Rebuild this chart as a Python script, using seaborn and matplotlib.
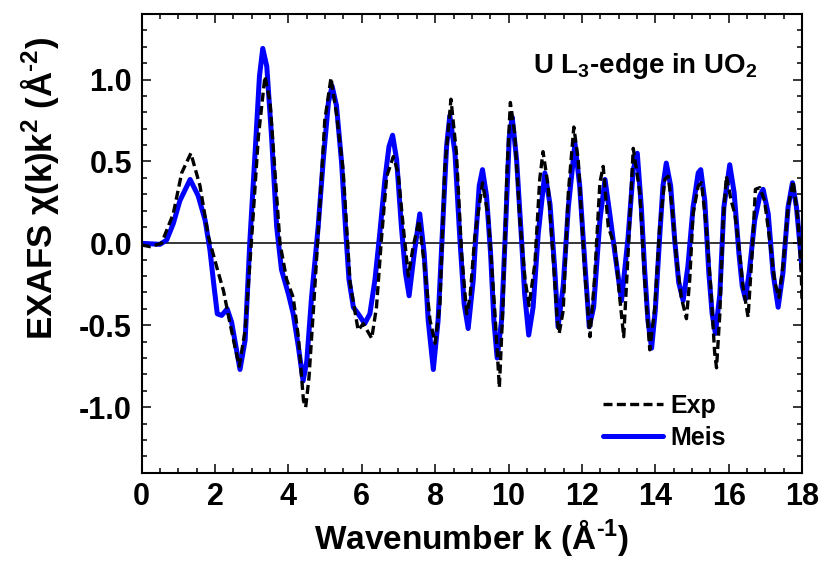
import numpy as np
import pandas as pd
import seaborn as sns
import matplotlib
matplotlib.use("Agg")
import matplotlib.pyplot as plt
from matplotlib.ticker import MultipleLocator, FormatStrFormatter

# ---- data ----
k_meis = [0.0, 0.25, 0.50, 0.68, 0.86, 1.04, 1.32, 1.54, 1.73, 1.86, 1.97, 2.06, 2.18, 2.33,
          2.45, 2.57, 2.68, 2.82, 2.95, 3.09, 3.21, 3.30, 3.41, 3.54, 3.68, 3.81, 4.00, 4.13,
          4.27, 4.40, 4.50, 4.63, 4.81, 4.95, 5.09, 5.19, 5.31, 5.45, 5.56, 5.65, 5.77, 5.90,
          6.08, 6.22, 6.36, 6.49, 6.63, 6.74, 6.84, 6.95, 7.08, 7.19, 7.29, 7.43, 7.58, 7.70,
          7.81, 7.95, 8.08, 8.19, 8.31, 8.40, 8.54, 8.67, 8.79, 8.90, 9.04, 9.08, 9.20, 9.29,
          9.40, 9.51, 9.60, 9.69, 9.81, 9.92, 10.02, 10.10, 10.22, 10.35, 10.44, 10.55, 10.67,
          10.81, 10.99, 11.13, 11.26, 11.35, 11.49, 11.63, 11.81, 11.94, 12.08, 12.20, 12.32,
          12.49, 12.63, 12.76, 12.90, 13.08, 13.26, 13.40, 13.51, 13.62, 13.71, 13.80, 13.90,
          14.00, 14.12, 14.21, 14.30, 14.42, 14.53, 14.64, 14.76, 14.89, 15.03, 15.17, 15.24,
          15.35, 15.46, 15.55, 15.64, 15.76, 15.87, 16.03, 16.15, 16.28, 16.37, 16.46, 16.57,
          16.71, 16.85, 16.94, 17.08, 17.21, 17.35, 17.48, 17.62, 17.74, 17.85, 17.98, 18.0]
chi_meis = [0.0, -0.003, -0.006, 0.02, 0.12, 0.26, 0.39, 0.29, 0.14, -0.04, -0.26, -0.43, -0.44, -0.40,
            -0.48, -0.63, -0.77, -0.59, 0.02, 0.55, 1.02, 1.19, 1.08, 0.65, 0.10, -0.16, -0.31, -0.43,
            -0.63, -0.84, -0.72, -0.33, 0.10, 0.51, 0.86, 0.96, 0.84, 0.49, 0.08, -0.22, -0.39, -0.43,
            -0.49, -0.43, -0.22, 0.06, 0.39, 0.59, 0.66, 0.51, 0.10, -0.18, -0.32, -0.06, 0.18, -0.06,
            -0.47, -0.77, -0.47, 0.04, 0.59, 0.78, 0.55, 0.04, -0.37, -0.52, -0.22, -0.06, 0.35, 0.45,
            0.29, -0.06, -0.47, -0.70, -0.47, 0.10, 0.65, 0.77, 0.51, 0.04, -0.31, -0.56, -0.39,
            0.06, 0.43, 0.24, -0.16, -0.51, -0.26, 0.22, 0.61, 0.35, -0.12, -0.51, -0.39,
            0.14, 0.39, 0.18, -0.06, -0.35, 0.04, 0.45, 0.55, 0.22, -0.16, -0.47, -0.64,
            -0.41, 0.04, 0.35, 0.49, 0.35, 0.02, -0.24, -0.35, -0.14, 0.22, 0.43, 0.45,
            0.26, -0.18, -0.43, -0.55, -0.31, 0.22, 0.48, 0.31, -0.06, -0.26, -0.34, -0.16,
            0.14, 0.29, 0.33, 0.18, -0.18, -0.39, -0.18, 0.22, 0.37, 0.22, -0.10, -0.16]

k_exp = [0.0, 0.23, 0.54, 0.86, 1.09, 1.34, 1.59, 1.82, 2.04, 2.23, 2.39, 2.54, 2.66, 2.82,
         3.00, 3.18, 3.36, 3.50, 3.63, 3.77, 3.95, 4.13, 4.27, 4.41, 4.47, 4.56, 4.68, 4.86,
         4.99, 5.16, 5.31, 5.49, 5.68, 5.81, 5.90, 6.04, 6.27, 6.40, 6.54, 6.68, 6.86, 6.99,
         7.13, 7.27, 7.40, 7.56, 7.70, 7.86, 8.00, 8.13, 8.26, 8.43, 8.58, 8.72, 8.86, 8.95,
         9.08, 9.29, 9.45, 9.63, 9.75, 9.85, 9.96, 10.05, 10.17, 10.31, 10.45, 10.56, 10.72,
         10.85, 10.94, 11.08, 11.22, 11.33, 11.38, 11.49, 11.63, 11.78, 11.90, 12.08, 12.22,
         12.35, 12.49, 12.58, 12.72, 12.90, 13.03, 13.14, 13.26, 13.40, 13.58, 13.71, 13.85,
         13.99, 14.12, 14.26, 14.35, 14.46, 14.58, 14.71, 14.85, 14.94, 15.03, 15.17, 15.26,
         15.39, 15.51, 15.62, 15.67, 15.76, 15.85, 15.94, 16.07, 16.17, 16.28, 16.39, 16.53,
         16.64, 16.73, 16.85, 16.98, 17.12, 17.26, 17.37, 17.48, 17.62, 17.76, 17.89, 17.98, 18.0]
chi_exp = [-0.01, -0.02, 0.0, 0.18, 0.43, 0.55, 0.35, 0.04, -0.14, -0.29, -0.47, -0.63, -0.75, -0.53,
           0.04, 0.65, 1.02, 0.86, 0.45, 0.0, -0.22, -0.33, -0.57, -0.96, -1.0, -0.82, -0.41, 0.24,
           0.75, 1.01, 0.79, 0.45, -0.24, -0.41, -0.53, -0.49, -0.58, -0.39, 0.04, 0.41, 0.53, 0.43,
           0.10, -0.20, -0.02, 0.14, -0.12, -0.47, -0.61, -0.37, 0.45, 0.88, 0.55, -0.06, -0.43, -0.33,
           0.04, 0.37, 0.16, -0.43, -0.88, -0.37, 0.45, 0.86, 0.67, 0.14, -0.22, -0.38, -0.12,
           0.39, 0.56, 0.35, -0.10, -0.47, -0.55, -0.41, 0.31, 0.71, 0.51, -0.18, -0.57,
           -0.20, 0.37, 0.47, 0.10, -0.02, -0.33, -0.57, -0.06, 0.58, 0.31, -0.22, -0.65,
           -0.39, 0.10, 0.39, 0.41, 0.22, -0.10, -0.33, -0.46, -0.22, 0.18, 0.35, 0.37,
           0.10, -0.26, -0.67, -0.76, -0.43, 0.14, 0.41, 0.26, 0.18, -0.02, -0.26, -0.45,
           -0.06, 0.33, 0.34, 0.26, 0.02, -0.24, -0.33, -0.14, 0.22, 0.38, 0.14, -0.18, -0.35]

series_labels = ["Exp", "Meis"]
x_label = r"Wavenumber k (Å$^{\text{-1}}$)"
y_label = r"EXAFS χ(k)k$^{2}$ (Å$^{\text{-2}}$)"
annotation = r"U L$_{3}$-edge in UO$_{2}$"

# ---- style ----
sns.set_theme(style="ticks")
FONT = "Liberation Sans"
plt.rcParams["font.family"] = [FONT, "DejaVu Sans"]
plt.rcParams["font.weight"] = "bold"
plt.rcParams["mathtext.fontset"] = "custom"
plt.rcParams["mathtext.rm"] = FONT + ":bold"
plt.rcParams["mathtext.it"] = FONT + ":bold"
plt.rcParams["mathtext.bf"] = FONT + ":bold"
plt.rcParams["axes.unicode_minus"] = False
for key in ["text.color", "axes.labelcolor", "xtick.color", "ytick.color",
            "xtick.labelcolor", "ytick.labelcolor", "axes.edgecolor"]:
    plt.rcParams[key] = "black"

fig = plt.figure(figsize=(8.23, 5.66), dpi=100)
ax = fig.add_axes([141.7 / 823, 1 - 472.7 / 566, (802 - 141.7) / 823, (472.7 - 14) / 566])

df_meis = pd.DataFrame({"k": k_meis, "chi": chi_meis})
df_exp = pd.DataFrame({"k": k_exp, "chi": chi_exp})

ax.axhline(0, color="black", lw=1.1, zorder=1)
sns.lineplot(data=df_meis, x="k", y="chi", ax=ax, color="#0000FF", lw=3.6,
             estimator=None, sort=False, label="Meis", zorder=2)
sns.lineplot(data=df_exp, x="k", y="chi", ax=ax, color="black", lw=2.4,
             linestyle=(0, (2.7, 1.3)), estimator=None, sort=False, label="Exp", zorder=3)

ax.set_xlim(0, 18)
ax.set_ylim(-1.4, 1.4)
ax.xaxis.set_major_locator(MultipleLocator(2))
ax.xaxis.set_minor_locator(MultipleLocator(0.5))
ax.yaxis.set_major_locator(MultipleLocator(0.5))
ax.yaxis.set_minor_locator(MultipleLocator(0.1))
ax.yaxis.set_major_formatter(FormatStrFormatter("%.1f"))

ax.tick_params(which="both", direction="in", top=True, right=True, width=1.1, colors="black")
ax.tick_params(which="major", length=6.5, labelsize=22, pad=7)
ax.tick_params(which="minor", length=3.5)
for lab in ax.get_xticklabels() + ax.get_yticklabels():
    lab.set_fontweight("bold")
for sp in ax.spines.values():
    sp.set_linewidth(1.5)
    sp.set_color("black")

ax.set_xlabel(x_label, fontsize=24, fontweight="bold", labelpad=3)
ax.set_ylabel(y_label, fontsize=25, fontweight="bold")
ax.yaxis.set_label_coords(-0.122, 0.62)

ax.text(0.592, 0.871, annotation, transform=ax.transAxes, fontsize=20,
        fontweight="bold", ha="left", va="baseline")

handles, labels = ax.get_legend_handles_labels()
order = [labels.index(s) for s in series_labels]
leg = ax.legend([handles[i] for i in order], [labels[i] for i in order],
                loc="lower left", bbox_to_anchor=(0.699, 0.05), borderaxespad=0,
                borderpad=0, frameon=False, fontsize=18, handlelength=2.4,
                handletextpad=0.28, labelspacing=0.32)
for t in leg.get_texts():
    t.set_fontweight("bold")

fig.savefig("out.png", dpi=100)
